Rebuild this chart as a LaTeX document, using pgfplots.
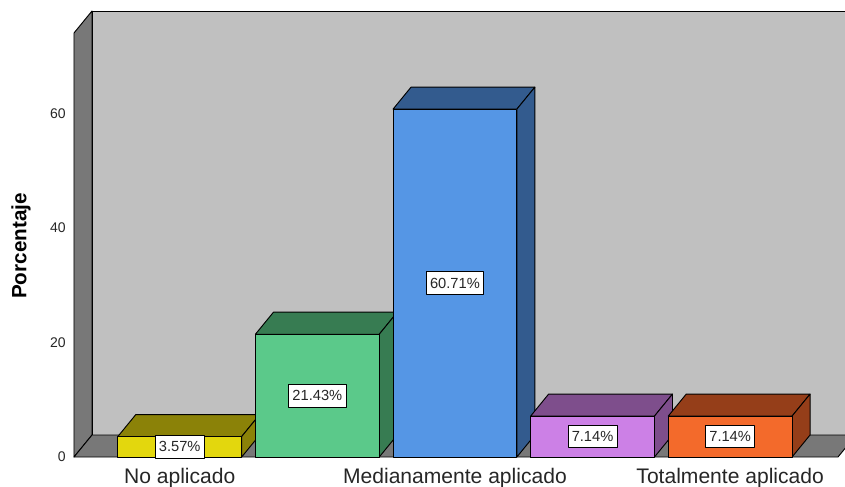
\documentclass[border=0pt]{standalone}
\usepackage{fontspec}
\setmainfont{Liberation Sans}
\usepackage{pgfplots}
\pgfplotsset{compat=1.18}
\usepackage{pgfplotstable}

% Colours: front face / top-and-side face of each bar
\definecolor{wallback}{HTML}{C0C0C0}
\definecolor{wallside}{HTML}{787878}
\definecolor{yelF}{HTML}{E3D70D}\definecolor{yelT}{HTML}{8B8208}
\definecolor{greF}{HTML}{5BC98A}\definecolor{greT}{HTML}{377C52}
\definecolor{bluF}{HTML}{5596E5}\definecolor{bluT}{HTML}{335B8E}
\definecolor{purF}{HTML}{CC80E6}\definecolor{purT}{HTML}{7E4E8C}
\definecolor{oraF}{HTML}{F36A2B}\definecolor{oraT}{HTML}{953E19}

\pgfplotstableread{
x v
0 3.57
1 21.43
2 60.71
3 7.14
4 7.14
}\datos

% depth of the 3-D effect, in axis units
\def\dx{0.1308}
\def\dy{3.84}
\def\xa{-0.7685}
\def\xb{4.7838}
\def\ya{74}

% one 3-D bar: position, value, front colour, top/side colour
\newcommand\barra[4]{%
  \pgfmathsetmacro\bL{#1-0.45}%
  \pgfmathsetmacro\bR{#1+0.45}%
  \pgfmathsetmacro\bLb{\bL+\dx}%
  \pgfmathsetmacro\bRb{\bR+\dx}%
  \pgfmathsetmacro\vt{#2+\dy}%
  \edef\cmd{%
    \noexpand\addplot[forget plot, fill=#4, draw=black] coordinates {(\bL,#2) (\bR,#2) (\bRb,\vt) (\bLb,\vt)} -- cycle;%
    \noexpand\addplot[forget plot, fill=#4, draw=black] coordinates {(\bR,0) (\bRb,\dy) (\bRb,\vt) (\bR,#2)} -- cycle;%
    \noexpand\addplot[forget plot, fill=#3, draw=black] coordinates {(\bL,0) (\bR,0) (\bR,#2) (\bL,#2)} -- cycle;%
  }\cmd
}

\begin{document}
\begin{tikzpicture}
\useasboundingbox (-55.5pt,-21.75pt) rectangle (578.25pt,342.75pt);
\clip (-55.5pt,-21.75pt) rectangle (578.25pt,342.75pt);
\begin{axis}[
  scale only axis,
  width=573pt, height=318pt,
  xmin=\xa, xmax=\xb, ymin=0, ymax=\ya,
  clip=false,
  axis line style={draw=none},
  major tick length=0pt,
  tick style={draw=none},
  xtick={0,2,4},
  xticklabels={No aplicado, Medianamente aplicado, Totalmente aplicado},
  ytick={0,20,40,60},
  /pgf/number format/assume math mode=true,
  xticklabel style={anchor=base, yshift=-19.5pt, font=\fontsize{15.8}{18}\selectfont, text=black!85},
  yticklabel style={anchor=east, inner sep=0pt, xshift=-6pt, font=\fontsize{10.5}{12}\selectfont, text=black!85},
  ylabel={Porcentaje},
  ylabel style={at={(axis description cs:-0.0694,0.4976)}, anchor=center, font=\fontsize{15.5}{18}\selectfont\bfseries},
  every axis plot/.append style={line width=0.7pt, line join=round},
]
% walls and floor
\pgfmathsetmacro\xaa{\xa+\dx}
\pgfmathsetmacro\xbb{\xb+\dx}
\pgfmathsetmacro\yaa{\ya+\dy}
\edef\cmd{%
  \noexpand\addplot[forget plot, fill=wallback, draw=black] coordinates {(\xaa,\dy) (8,\dy) (8,\yaa) (\xaa,\yaa)} -- cycle;%
  \noexpand\addplot[forget plot, fill=wallside, draw=black] coordinates {(\xa,0) (\xaa,\dy) (\xaa,\yaa) (\xa,\ya)} -- cycle;%
  \noexpand\addplot[forget plot, fill=wallside, draw=black] coordinates {(\xa,0) (\xb,0) (\xbb,\dy) (\xaa,\dy)} -- cycle;%
}\cmd
% bars
\barra{0}{3.57}{yelF}{yelT}
\barra{1}{21.43}{greF}{greT}
\barra{2}{60.71}{bluF}{bluT}
\barra{3}{7.14}{purF}{purT}
\barra{4}{7.14}{oraF}{oraT}
% value labels in the middle of each front face
\addplot[draw=none, mark=none, forget plot,
  nodes near coords={\pgfmathprintnumber[fixed,precision=2,fixed zerofill]{\pgfplotspointmeta}\%},
  point meta=\thisrow{v},
  every node near coord/.append style={anchor=center, fill=white, draw=black, line width=0.6pt,
    inner xsep=2.8pt, inner ysep=0pt, minimum height=17pt, text=black!85,
    font=\fontsize{11}{12}\selectfont}]
  table[x=x, y expr=\thisrow{v}/2] {\datos};
\end{axis}
\end{tikzpicture}
\end{document}
